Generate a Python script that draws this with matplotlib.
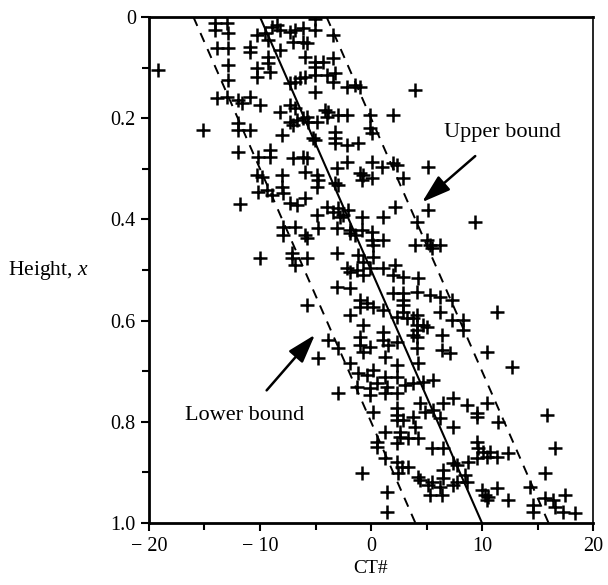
import matplotlib
matplotlib.use("Agg")
import matplotlib.pyplot as plt
from matplotlib.ticker import FixedLocator, FixedFormatter

plt.rcParams['font.family'] = ['Liberation Serif', 'DejaVu Serif']
plt.rcParams['mathtext.fontset'] = 'custom'
plt.rcParams['mathtext.rm'] = 'Liberation Serif'
plt.rcParams['mathtext.it'] = 'Liberation Serif:italic'

# CT# values (x) and heights (y) of the scattered measurements
ct = [
 -14.05,-12.97,-14.05,-12.88,-13.87,-12.88,-10.9,-10.9,-12.88,-12.88,
 -13.87,-12.97,-11.98,-11.62,-10.9,-10.0,-10.27,-10.27,-9.28,-9.1,-9.28,-8.2,
 -10.27,-9.55,-8.92,-8.47,-8.2,-9.28,
 -7.3,-6.85,-7.03,-6.13,-6.13,-5.05,-5.95,-5.77,-5.05,-3.42,
 -7.3,-6.85,-6.4,-5.95,-5.05,-5.05,-5.05,-4.32,-3.42,-3.96,-3.42,-3.24,-5.05,-2.16,-1.44,-0.99,
 -7.3,-6.85,-8.2,-5.77,-4.14,-3.87,-2.97,-2.16,-0.09,1.98,3.96,-19.2,
 -15.1,-11.98,-11.98,-10.9,-8.02,-7.3,-6.67,-6.13,-5.68,-4.86,-7.03,-5.23,-5.05,-3.24,-3.24,-3.24,
 -2.16,-1.17,-3.96,0.09,-0.09,
 -11.98,-10.18,-9.1,-9.1,-7.03,-6.13,-5.77,-2.16,0.09,0.99,1.98,2.34,2.88,5.14,
 -3.06,-0.99,-0.81,0.09,-0.72,-5.95,-4.86,-4.77,-4.86,-3.24,-2.97,-10.27,-9.82,-8.02,
 -10.18,-9.37,-8.92,-8.02,-7.93,-7.3,-6.67,-5.95,-11.8,
 -4.86,-3.96,-3.42,-2.97,-2.52,-2.07,-0.81,1.08,2.16,5.14,
 -10.0,-7.93,-6.85,-7.93,-5.95,-5.77,-4.77,-7.12,-7.12,-5.77,-6.85,
 -3.06,-1.89,-0.81,0.09,-1.89,-1.44,0.09,1.08,0.18,-2.79,4.14,9.37,
 3.96,5.05,5.32,6.22,5.5,-3.06,-1.17,0.18,-0.72,
 -2.16,-1.89,-1.26,-0.09,1.08,-0.72,2.16,1.98,2.88,4.23,-3.06,-1.89,
 1.98,2.88,4.14,5.32,6.22,7.3,2.88,2.88,-5.77,
 -0.99,-0.36,-0.99,0.18,1.08,2.88,4.14,-1.89,6.22,11.35,
 2.34,3.24,3.78,4.14,4.68,5.05,4.14,3.78,7.3,8.29,8.29,-3.87,-2.97,-4.77,
 -0.72,-0.99,-0.99,-0.72,-0.09,1.08,1.08,1.53,1.26,2.34,4.14,4.14,4.23,
 6.4,6.4,7.12,10.45,12.7,
 -1.89,-1.17,-0.36,0.18,1.26,2.34,2.34,
 -1.26,-0.09,0.54,1.44,2.34,3.06,3.78,4.68,5.59,-2.97,-0.09,1.26,
 0.18,2.34,2.34,4.41,4.86,5.59,6.49,7.39,8.65,9.55,10.45,15.86,
 2.34,2.88,3.78,3.96,2.61,1.26,2.61,3.33,4.23,2.34,0.54,0.54,
 6.22,7.39,9.55,11.44,5.5,6.49,
 9.55,9.64,10.09,10.72,11.35,12.34,10.45,9.55,8.74,7.75,7.39,16.58,
 1.26,2.34,2.79,3.33,2.43,-0.81,
 6.49,6.49,7.39,8.47,8.65,5.5,4.23,4.41,5.14,6.22,6.4,5.32,7.75,
 10.0,10.27,10.45,11.35,12.34,10.54,
 15.68,14.32,15.68,16.4,17.48,14.59,14.59,16.58,17.3,18.38,1.44,1.44,
]
height = [
 0.012,0.012,0.026,0.032,0.061,0.061,0.059,0.069,0.095,0.125,
 0.160,0.158,0.164,0.170,0.158,0.174,0.101,0.119,0.091,0.109,0.079,0.065,
 0.036,0.032,0.020,0.016,0.026,0.045,
 0.030,0.026,0.049,0.049,0.022,0.026,0.079,0.051,0.004,0.036,
 0.130,0.128,0.121,0.119,0.115,0.099,0.089,0.089,0.081,0.115,0.128,0.111,0.148,0.138,0.134,0.138,
 0.174,0.180,0.188,0.198,0.184,0.188,0.194,0.194,0.194,0.194,0.144,0.105,
 0.223,0.209,0.223,0.223,0.233,0.208,0.204,0.200,0.208,0.208,0.213,0.239,0.243,0.227,0.239,0.249,
 0.253,0.249,0.198,0.229,0.219,
 0.267,0.277,0.263,0.277,0.279,0.277,0.279,0.287,0.287,0.296,0.289,0.292,0.318,0.296,
 0.298,0.308,0.322,0.318,0.312,0.306,0.312,0.322,0.336,0.328,0.332,0.312,0.316,0.312,
 0.346,0.342,0.352,0.336,0.348,0.368,0.372,0.358,0.370,
 0.391,0.375,0.385,0.377,0.391,0.381,0.395,0.395,0.375,0.381,
 0.476,0.415,0.415,0.431,0.431,0.437,0.417,0.466,0.476,0.476,0.490,
 0.417,0.421,0.421,0.425,0.427,0.431,0.441,0.441,0.451,0.395,0.405,0.405,
 0.451,0.441,0.451,0.451,0.457,0.466,0.470,0.474,0.484,
 0.496,0.504,0.500,0.496,0.496,0.510,0.490,0.510,0.514,0.516,0.534,0.536,
 0.545,0.545,0.543,0.549,0.553,0.559,0.559,0.569,0.569,
 0.559,0.565,0.573,0.573,0.579,0.583,0.589,0.589,0.583,0.583,
 0.593,0.595,0.595,0.609,0.609,0.613,0.619,0.628,0.599,0.599,0.619,0.638,0.654,0.674,
 0.609,0.632,0.648,0.662,0.652,0.623,0.638,0.648,0.672,0.642,0.632,0.654,0.684,
 0.628,0.658,0.664,0.662,0.692,
 0.684,0.704,0.708,0.698,0.711,0.688,0.711,
 0.731,0.733,0.723,0.731,0.743,0.727,0.723,0.721,0.717,0.743,0.747,0.743,
 0.781,0.773,0.787,0.763,0.781,0.777,0.763,0.753,0.767,0.783,0.763,0.787,
 0.796,0.796,0.791,0.810,0.820,0.820,0.830,0.832,0.832,0.842,0.840,0.850,
 0.792,0.810,0.791,0.800,0.852,0.852,
 0.840,0.852,0.860,0.860,0.870,0.862,0.870,0.872,0.879,0.885,0.881,0.852,
 0.872,0.879,0.889,0.889,0.901,0.901,
 0.895,0.911,0.925,0.905,0.919,0.919,0.909,0.915,0.925,0.929,0.945,0.945,0.919,
 0.935,0.945,0.955,0.931,0.955,0.949,
 0.901,0.929,0.951,0.955,0.945,0.964,0.978,0.968,0.978,0.980,0.939,0.978,
]

# reference lines: (CT# at height 0, CT# at height 1)
line_heights = [0.0, 1.0]
mean_line = [-10.0, 10.0]
lower_line = [-16.0, 4.0]
upper_line = [-4.0, 16.0]

x_ticks = [-20, -10, 0, 10, 20]
x_labels = ["\u2212 20", "\u2212 10", "0", "10", "20"]
x_minor = [-15, -5, 5, 15]
y_ticks = [0, 0.2, 0.4, 0.6, 0.8, 1.0]
y_labels = ["0", "0.2", "0.4", "0.6", "0.8", "1.0"]
y_minor = [0.1, 0.3, 0.5, 0.7, 0.9]

fig = plt.figure(figsize=(6.08, 5.85), dpi=100)
ax = fig.add_axes([149/608, 1 - 523/585, 444/608, 506/585])

ax.plot(ct, height, linestyle='none', marker='+', color='black',
        markersize=10, markeredgewidth=1.8)
ax.plot(mean_line, line_heights, color='black', lw=1.5)
ax.plot(lower_line, line_heights, color='black', lw=1.4, linestyle=(0, (5, 4)))
ax.plot(upper_line, line_heights, color='black', lw=1.4, linestyle=(0, (5, 4)))

ax.set_xlim(-20, 20)
ax.set_ylim(1.0, 0.0)

ax.xaxis.set_major_locator(FixedLocator(x_ticks))
ax.xaxis.set_major_formatter(FixedFormatter(x_labels))
ax.xaxis.set_minor_locator(FixedLocator(x_minor))
ax.yaxis.set_major_locator(FixedLocator(y_ticks))
ax.yaxis.set_major_formatter(FixedFormatter(y_labels))
ax.yaxis.set_minor_locator(FixedLocator(y_minor))
ax.tick_params(which='both', direction='out', length=6, width=1.5, labelsize=14.5, color='black')
ax.tick_params(which='minor', length=5)
ax.tick_params(axis='x', pad=4)

for s in ['left', 'bottom', 'top']:
    ax.spines[s].set_linewidth(2.0)
ax.spines['right'].set_linewidth(1.2)

ax.set_xlabel("CT#", fontsize=14, labelpad=3)
ax.set_ylabel("Height, $\\mathit{x}$", fontsize=15.5, rotation=0, labelpad=45, va='center')

ax.annotate("Upper bound", xy=(4.6, 0.366), xytext=(11.8, 0.229),
            fontsize=16, ha='center', va='center',
            arrowprops=dict(arrowstyle='-|>,head_length=1.1,head_width=0.35', color='black', lw=1.8,
                            shrinkA=12, shrinkB=0))
ax.annotate("Lower bound", xy=(-5.05, 0.628), xytext=(-11.35, 0.787),
            fontsize=16, ha='center', va='center',
            arrowprops=dict(arrowstyle='-|>,head_length=1.1,head_width=0.35', color='black', lw=1.8,
                            shrinkA=12, shrinkB=0))

fig.savefig("out.png", dpi=100)
